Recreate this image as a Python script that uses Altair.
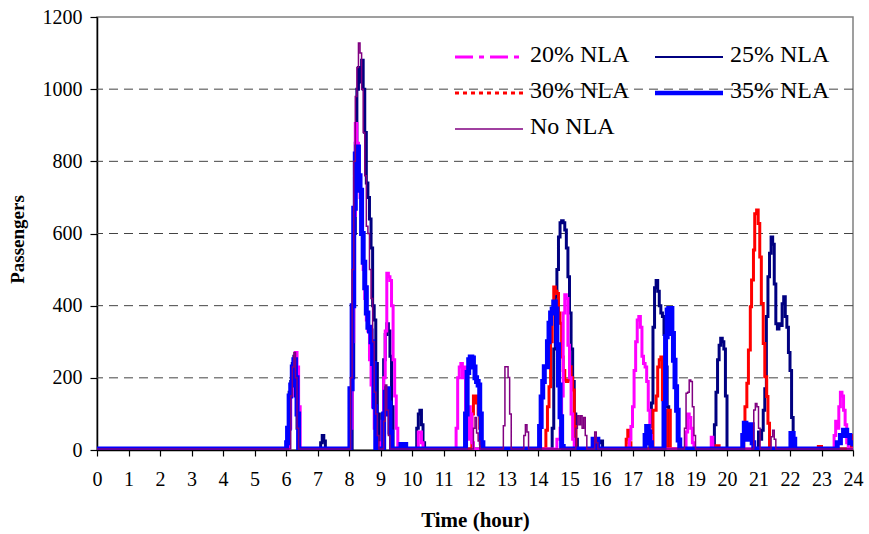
import altair as alt
import pandas as pd

# Passenger loads over the day for each NLA scenario: (hour, passengers) step points
NLA_20 = [(0, 3), (6.05, 3), (6.1, 60), (6.15, 150), (6.2, 210), (6.25, 240), (6.3, 270), (6.35, 230), (6.4, 120), (6.45, 3),
          (8.0, 3), (8.05, 60), (8.1, 300), (8.15, 650), (8.2, 905), (8.25, 850), (8.3, 760), (8.35, 700), (8.4, 600),
          (8.45, 500), (8.5, 420), (8.55, 360), (8.6, 330), (8.65, 250), (8.7, 180), (8.75, 120), (8.8, 60), (8.85, 20), (8.9, 3),
          (9.0, 20), (9.05, 80), (9.1, 200), (9.15, 330), (9.2, 490), (9.25, 480), (9.3, 470), (9.35, 400), (9.4, 250),
          (9.45, 150), (9.5, 60), (9.55, 10), (9.6, 3),
          (10.15, 3), (10.2, 50), (10.3, 20), (10.35, 3),
          (11.35, 3), (11.4, 60), (11.45, 200), (11.5, 230), (11.55, 240), (11.6, 200), (11.65, 230), (11.7, 110),
          (11.75, 30), (11.8, 120), (11.85, 100), (11.9, 20), (11.95, 3),
          (14.6, 30), (14.7, 60), (14.75, 150), (14.8, 380), (14.85, 430), (14.9, 420), (14.95, 290), (15.0, 200),
          (15.05, 100), (15.1, 30), (15.15, 3),
          (16.85, 3), (16.9, 30), (16.95, 65), (17.0, 120), (17.05, 220), (17.1, 300), (17.15, 360), (17.2, 370),
          (17.25, 340), (17.3, 260), (17.35, 240), (17.4, 230), (17.45, 190), (17.5, 110), (17.55, 40), (17.6, 3),
          (18.65, 3), (18.7, 50), (18.75, 100), (18.8, 90), (18.85, 60), (18.9, 20), (18.95, 3),
          (19.45, 3), (19.5, 35), (19.55, 3),
          (23.35, 3), (23.4, 40), (23.45, 80), (23.5, 60), (23.55, 120), (23.6, 160), (23.65, 150), (23.7, 110),
          (23.75, 70), (23.8, 20), (23.85, 3), (24, 3)]

NLA_25 = [(0, 3), (6.0, 3), (6.05, 40), (6.1, 160), (6.15, 190), (6.2, 240), (6.25, 260), (6.3, 150), (6.35, 60), (6.4, 3),
          (7.05, 3), (7.1, 20), (7.15, 40), (7.2, 25), (7.25, 3),
          (8.05, 3), (8.1, 200), (8.15, 600), (8.2, 850), (8.25, 1000), (8.3, 1060), (8.35, 1020), (8.4, 1080),
          (8.45, 1000), (8.5, 880), (8.55, 740), (8.6, 700), (8.65, 640), (8.7, 560), (8.75, 400), (8.8, 360),
          (8.85, 240), (8.9, 100), (8.95, 20), (9.0, 3),
          (9.05, 100), (9.1, 250), (9.15, 320), (9.2, 350), (9.25, 330), (9.3, 260), (9.35, 120), (9.4, 3),
          (10.1, 3), (10.15, 60), (10.2, 100), (10.25, 110), (10.3, 70), (10.35, 20), (10.4, 3),
          (14.4, 3), (14.45, 60), (14.5, 280), (14.55, 425), (14.6, 500), (14.65, 590), (14.7, 630), (14.75, 635),
          (14.8, 630), (14.85, 610), (14.9, 560), (14.95, 480), (15.0, 380), (15.05, 280), (15.1, 190), (15.15, 100),
          (15.2, 30), (15.25, 3),
          (15.85, 3), (15.9, 20), (16.0, 25), (16.05, 3),
          (17.5, 3), (17.55, 65), (17.6, 130), (17.65, 340), (17.7, 450), (17.75, 470), (17.8, 440), (17.85, 400),
          (17.9, 380), (17.95, 370), (18.0, 320), (18.05, 230), (18.1, 120), (18.15, 3),
          (19.55, 3), (19.6, 70), (19.65, 160), (19.7, 250), (19.75, 290), (19.8, 310), (19.85, 300), (19.9, 280),
          (19.95, 150), (20.0, 3),
          (20.95, 3), (21.0, 50), (21.05, 30), (21.1, 55), (21.15, 110), (21.2, 170), (21.25, 370), (21.3, 480),
          (21.35, 545), (21.4, 590), (21.45, 570), (21.5, 460), (21.55, 350), (21.6, 335), (21.65, 350), (21.7, 345),
          (21.75, 405), (21.8, 425), (21.85, 370), (21.9, 340), (21.95, 270), (22.0, 220), (22.05, 90), (22.1, 10),
          (22.15, 3), (24, 3)]

NLA_30 = [(0, 3), (6.0, 3), (6.02, 20), (6.05, 60), (6.1, 150), (6.15, 180), (6.2, 230), (6.25, 250), (6.3, 200),
          (6.35, 100), (6.4, 3),
          (8.0, 3), (8.03, 170), (8.1, 400), (8.15, 670), (8.2, 820), (8.25, 840), (8.3, 760), (8.35, 720), (8.4, 600),
          (8.45, 520), (8.5, 450), (8.55, 380), (8.6, 340), (8.65, 330), (8.7, 300), (8.75, 240), (8.8, 120), (8.85, 3),
          (9.05, 3), (9.1, 100), (9.15, 160), (9.2, 170), (9.25, 130), (9.3, 50), (9.35, 3),
          (11.85, 3), (11.9, 100), (11.95, 150), (12.0, 130), (12.05, 150), (12.1, 100), (12.15, 60), (12.2, 3),
          (14.2, 3), (14.25, 55), (14.3, 120), (14.35, 175), (14.4, 300), (14.45, 378), (14.5, 452), (14.55, 440),
          (14.6, 434), (14.65, 380), (14.7, 351), (14.75, 258), (14.8, 220), (14.85, 194), (14.9, 190), (14.95, 194),
          (15.0, 231), (15.05, 200), (15.1, 166), (15.15, 65), (15.2, 3),
          (16.75, 3), (16.8, 30), (16.85, 55), (16.9, 20), (16.95, 3),
          (17.6, 3), (17.65, 110), (17.7, 110), (17.75, 150), (17.8, 230), (17.85, 250), (17.9, 258), (17.95, 139),
          (18.0, 40), (18.05, 3), (18.1, 110), (18.15, 110), (18.2, 3),
          (19.6, 3), (19.65, 12), (19.75, 3),
          (20.5, 3), (20.53, 74), (20.57, 120), (20.63, 185), (20.68, 277), (20.74, 397), (20.78, 471), (20.84, 554),
          (20.88, 655), (20.94, 665), (20.99, 628), (21.04, 535), (21.09, 406), (21.15, 295), (21.2, 203),
          (21.26, 148), (21.3, 74), (21.35, 3),
          (22.85, 3), (22.9, 10), (23.0, 3),
          (23.9, 3), (23.95, 40), (24, 30)]

NLA_35 = [(0, 3), (6.0, 3), (6.02, 20), (6.05, 60), (6.1, 150), (6.15, 180), (6.2, 230), (6.25, 250), (6.3, 200),
          (6.35, 100), (6.4, 3),
          (8.0, 3), (8.03, 170), (8.1, 400), (8.15, 670), (8.2, 820), (8.25, 840), (8.3, 760), (8.35, 720), (8.4, 600),
          (8.45, 520), (8.5, 450), (8.55, 380), (8.6, 340), (8.65, 330), (8.7, 300), (8.75, 240), (8.8, 120), (8.85, 3),
          (9.05, 3), (9.1, 100), (9.15, 160), (9.2, 170), (9.25, 130), (9.3, 50), (9.35, 3),
          (9.6, 3), (9.65, 15), (9.8, 3),
          (11.65, 3), (11.7, 100), (11.75, 215), (11.8, 250), (11.85, 258), (11.9, 255), (11.95, 230), (12.0, 200),
          (12.05, 190), (12.1, 180), (12.15, 100), (12.2, 20), (12.25, 3),
          (14.0, 3), (14.05, 65), (14.1, 147), (14.15, 190), (14.2, 231), (14.3, 300), (14.35, 351), (14.4, 380),
          (14.45, 391), (14.5, 410), (14.55, 391), (14.6, 292), (14.65, 180), (14.7, 92), (14.75, 10), (14.8, 3),
          (15.7, 3), (15.75, 30), (15.85, 30), (15.9, 3),
          (17.35, 3), (17.4, 40), (17.45, 65), (17.5, 50), (17.55, 20), (17.6, 3),
          (17.95, 3), (18.0, 129), (18.05, 314), (18.1, 388), (18.15, 392), (18.2, 392), (18.25, 323), (18.3, 249),
          (18.35, 175), (18.4, 110), (18.45, 28), (18.5, 3),
          (20.45, 3), (20.5, 40), (20.55, 74), (20.6, 60), (20.65, 30), (20.7, 60), (20.75, 70), (20.8, 20), (20.85, 3),
          (22.0, 3), (22.03, 46), (22.1, 30), (22.15, 3),
          (23.4, 3), (23.5, 20), (23.6, 40), (23.7, 55), (23.8, 40), (23.9, 20), (24, 10)]

NO_NLA = [(0, 3), (6.1, 3), (6.15, 150), (6.2, 230), (6.25, 270), (6.3, 200), (6.35, 60), (6.4, 3),
          (8.0, 3), (8.05, 200), (8.1, 500), (8.15, 800), (8.2, 980), (8.25, 1060), (8.3, 1128), (8.35, 1100),
          (8.4, 1000), (8.45, 880), (8.5, 760), (8.55, 620), (8.6, 600), (8.65, 500), (8.7, 420), (8.75, 300),
          (8.8, 160), (8.85, 100), (8.9, 40), (8.95, 3),
          (9.05, 3), (9.1, 80), (9.15, 180), (9.2, 110), (9.25, 40), (9.3, 3),
          (11.9, 3), (11.95, 60), (12.0, 90), (12.05, 47), (12.1, 25), (12.15, 3),
          (12.85, 3), (12.9, 67), (12.95, 231), (13.0, 231), (13.05, 201), (13.1, 100), (13.15, 3),
          (13.5, 3), (13.55, 40), (13.6, 70), (13.65, 50), (13.7, 3),
          (15.15, 3), (15.2, 60), (15.25, 95), (15.3, 70), (15.35, 95), (15.4, 60), (15.45, 90), (15.5, 40), (15.55, 3),
          (15.75, 3), (15.8, 50), (15.85, 20), (15.9, 3),
          (18.6, 3), (18.65, 60), (18.7, 157), (18.75, 160), (18.8, 194), (18.85, 190), (18.9, 120), (18.95, 40), (19.0, 3),
          (20.8, 3), (20.85, 111), (20.9, 129), (20.95, 120), (21.0, 60), (21.05, 3),
          (21.35, 3), (21.4, 37), (21.45, 55), (21.5, 30), (21.55, 3), (24, 3)]

GRID_VALUES = [200, 400, 600, 800, 1000]
Y_TICKS = [0, 200, 400, 600, 800, 1000, 1200]
X_TICKS = list(range(0, 25))

FONT = "Liberation Serif"

# name, points, color, plot width, legend width, legend dash, legend column, legend row
# (listed in drawing order: later entries sit on top)
SERIES = [
    ("25% NLA", NLA_25, "#000080", 3.0, 2.0, None, 1, 0),
    ("30% NLA", NLA_30, "#FF0000", 3.0, 3.0, [4, 4], 0, 1),
    ("20% NLA", NLA_20, "#FF00FF", 3.0, 3.0, [18, 6, 5, 6], 0, 0),
    ("35% NLA", NLA_35, "#0000FF", 5.0, 4.5, None, 1, 1),
    ("No NLA", NO_NLA, "#800080", 1.5, 1.5, None, 0, 2),
]

x_enc = alt.X(
    "hour:Q",
    scale=alt.Scale(domain=[0, 24], nice=False, zero=False),
    axis=alt.Axis(
        values=X_TICKS, format="d", title="Time (hour)", grid=False,
        labelFont=FONT, labelFontSize=20, labelColor="black", labelPadding=13,
        labelFlush=False, labelOverlap=False,
        tickColor="black", tickSize=6, tickWidth=1.2,
        domainColor="black", domainWidth=1.5,
        titleFont=FONT, titleFontSize=21, titleFontWeight="bold", titleColor="black",
        titleY=59,
    ),
)
y_enc = alt.Y(
    "value:Q",
    scale=alt.Scale(domain=[0, 1200], nice=False),
    axis=alt.Axis(
        values=Y_TICKS, format="d", title="Passengers", grid=False,
        labelFont=FONT, labelFontSize=20, labelColor="black", labelPadding=8,
        tickColor="black", tickSize=7, tickWidth=1.2,
        domainColor="black", domainWidth=1.5,
        titleFont=FONT, titleFontSize=19, titleFontWeight="bold", titleColor="black",
        titleX=-70, titleY=222,
    ),
)

# dashed horizontal gridlines
grid = alt.Chart(pd.DataFrame({"value": GRID_VALUES})).mark_rule(
    color="#444444", strokeWidth=1, strokeDash=[9, 6]
).encode(y=y_enc)

layers = [grid]
for name, pts, color, width, _, _, _, _ in SERIES:
    df = pd.DataFrame(pts, columns=["hour", "value"])
    layers.append(
        alt.Chart(df).mark_line(
            interpolate="step-after", color=color, strokeWidth=width, clip=True
        ).encode(x=x_enc, y=y_enc)
    )

# in-plot legend
for name, _, color, _, lwidth, dash, col, row in SERIES:
    x0 = 358 + 200 * col
    yc = 40 + 36 * row
    label = pd.DataFrame({"label": [name]})
    rule_kwargs = dict(color=color, strokeWidth=lwidth)
    if dash:
        rule_kwargs["strokeDash"] = dash
    layers.append(
        alt.Chart(label).mark_rule(**rule_kwargs).encode(
            x=alt.value(x0), x2=alt.value(x0 + 68), y=alt.value(yc)
        )
    )
    layers.append(
        alt.Chart(label).mark_text(
            font=FONT, fontSize=24, color="black", align="left", baseline="middle"
        ).encode(x=alt.value(x0 + 75), y=alt.value(yc - 2), text="label:N")
    )

chart = alt.layer(*layers).properties(
    width=756,
    height=433,
    autosize=alt.AutoSizeParams(type="none"),
    padding={"left": 97, "top": 17, "right": 16, "bottom": 84},
    background="white",
).configure_view(stroke="#808080", strokeWidth=1.5)

chart.save("out.html", embed_options={"renderer": "svg", "actions": False})
